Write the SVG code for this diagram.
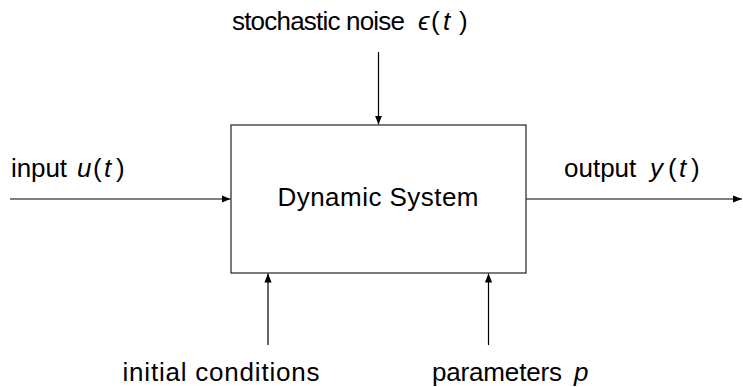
<svg xmlns="http://www.w3.org/2000/svg" width="743" height="387" viewBox="0 0 743 387">
  <style>
    .lbl { font-family: "Liberation Sans", "DejaVu Sans", sans-serif; font-size: 26px; fill: #000; }
    .m { font-style: italic; }
    .wire { stroke: #000; stroke-width: 1.2; fill: none; marker-end: url(#tip); }
    .box { fill: #fff; stroke: #333; stroke-width: 1.3; }
  </style>
  <defs>
    <marker id="tip" viewBox="0 0 10 8" refX="10" refY="4" markerUnits="userSpaceOnUse" markerWidth="9" markerHeight="7.2" orient="auto">
      <path d="M0,0 L10,4 L0,8 Z" fill="#000"/>
    </marker>
  </defs>
  <rect width="743" height="387" fill="#fff"/>

  <g id="connectors">
    <line class="wire" x1="378.5" y1="52" x2="378.5" y2="124.5"/>
    <line class="wire" x1="10" y1="199" x2="230.5" y2="199"/>
    <line class="wire" x1="526" y1="199" x2="742" y2="199"/>
    <line class="wire" x1="268" y1="345" x2="268" y2="273.5"/>
    <line class="wire" x1="488.5" y1="345" x2="488.5" y2="273.5"/>
  </g>

  <g id="system">
    <rect class="box" x="231" y="125" width="295" height="148"/>
    <text class="lbl" x="378" y="206" text-anchor="middle" textLength="201">Dynamic System</text>
  </g>

  <g id="noise">
    <text class="lbl" y="30"><tspan x="232" textLength="173">stochastic noise</tspan><tspan class="m" x="418">ϵ</tspan><tspan x="431">(</tspan><tspan class="m" x="443">t</tspan><tspan x="459">)</tspan></text>
  </g>

  <g id="input">
    <text class="lbl" y="177"><tspan x="11" textLength="56">input</tspan><tspan class="m" x="77">u</tspan><tspan x="93">(</tspan><tspan class="m" x="104">t</tspan><tspan x="116">)</tspan></text>
  </g>

  <g id="output">
    <text class="lbl" y="177"><tspan x="564">output</tspan><tspan class="m" x="650">y</tspan><tspan x="668">(</tspan><tspan class="m" x="679">t</tspan><tspan x="691">)</tspan></text>
  </g>

  <g id="initial">
    <text class="lbl" x="221" y="381" text-anchor="middle" textLength="197">initial conditions</text>
  </g>

  <g id="params">
    <text class="lbl" y="381"><tspan x="432" textLength="130">parameters</tspan><tspan class="m" x="574">p</tspan></text>
  </g>
</svg>
